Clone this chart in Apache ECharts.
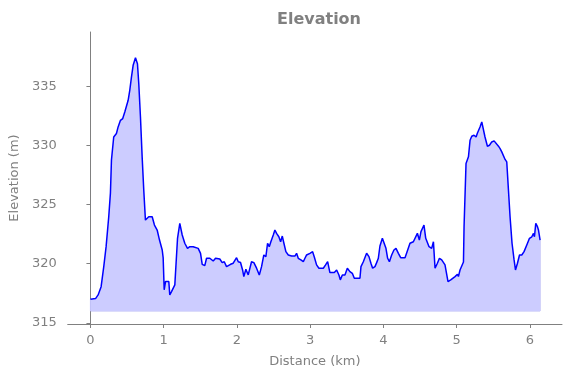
<!DOCTYPE html>
<html>
<head>
<meta charset="utf-8">
<script src="https://cdn.jsdelivr.net/npm/echarts@6/dist/echarts.min.js"></script>
<style>
html,body{margin:0;padding:0;background:#fff;}
#chart{width:571px;height:378px;}
</style>
</head>
<body>
<div id="chart"></div>
<script>
var distKm = [
  0, 0.07, 0.105, 0.146, 0.182, 0.214, 0.25, 0.273, 0.287, 0.318,
  0.355, 0.378, 0.41, 0.441, 0.469, 0.515, 0.537, 0.56, 0.583, 0.615,
  0.642, 0.66, 0.683, 0.706, 0.728, 0.751, 0.796, 0.843, 0.874, 0.911,
  0.943, 0.98, 0.993, 1.007, 1.025, 1.052, 1.07, 1.083, 1.107, 1.13,
  1.152, 1.175, 1.189, 1.22, 1.253, 1.288, 1.325, 1.357, 1.403, 1.425,
  1.471, 1.503, 1.526, 1.561, 1.585, 1.63, 1.653, 1.676, 1.708, 1.735,
  1.766, 1.799, 1.827, 1.858, 1.881, 1.913, 1.949, 1.971, 1.995, 2.018,
  2.049, 2.077, 2.094, 2.122, 2.154, 2.199, 2.231, 2.268, 2.305, 2.336,
  2.367, 2.395, 2.418, 2.441, 2.463, 2.496, 2.518, 2.541, 2.572, 2.596,
  2.619, 2.641, 2.668, 2.701, 2.746, 2.791, 2.814, 2.837, 2.873, 2.906,
  2.928, 2.951, 2.996, 3.033, 3.056, 3.087, 3.119, 3.179, 3.21, 3.238,
  3.269, 3.329, 3.361, 3.392, 3.411, 3.439, 3.474, 3.507, 3.542, 3.575,
  3.602, 3.62, 3.648, 3.679, 3.693, 3.725, 3.747, 3.77, 3.802, 3.829,
  3.852, 3.884, 3.907, 3.93, 3.952, 3.985, 4.012, 4.034, 4.057, 4.081,
  4.112, 4.143, 4.171, 4.204, 4.235, 4.262, 4.294, 4.326, 4.362, 4.408,
  4.43, 4.463, 4.49, 4.512, 4.536, 4.553, 4.577, 4.6, 4.622, 4.658,
  4.682, 4.704, 4.736, 4.764, 4.795, 4.818, 4.84, 4.863, 4.881, 4.918,
  4.945, 4.977, 5.01, 5.023, 5.045, 5.068, 5.092, 5.1, 5.127, 5.16,
  5.182, 5.205, 5.236, 5.264, 5.283, 5.318, 5.342, 5.365, 5.386, 5.419,
  5.447, 5.478, 5.51, 5.537, 5.57, 5.592, 5.615, 5.638, 5.66, 5.683,
  5.706, 5.728, 5.755, 5.783, 5.802, 5.829, 5.857, 5.888, 5.919, 5.943,
  5.966, 5.993, 6.025, 6.048, 6.061, 6.079, 6.102, 6.116, 6.138
];
var elevM = [
  317.0, 317.05, 317.36, 318.06, 319.75, 321.44, 323.97, 325.97, 328.76, 330.72,
  331.01, 331.57, 332.13, 332.28, 332.83, 333.82, 334.67, 335.79, 336.78, 337.42,
  336.92, 335.23, 332.41, 329.04, 326.23, 323.69, 323.97, 323.97, 323.27, 322.85,
  322.0, 321.16, 320.49, 317.79, 318.49, 318.63, 318.49, 317.36, 317.64, 317.51,
  318.21, 318.06, 322.15, 323.41, 322.43, 321.73, 321.3, 321.44, 321.44, 321.58,
  321.3, 320.88, 319.95, 319.84, 320.46, 320.46, 320.6, 320.23, 320.46, 320.32,
  320.4, 320.09, 320.17, 319.75, 319.62, 319.95, 320.04, 320.17, 320.51, 320.17,
  320.1, 319.47, 318.91, 319.53, 319.05, 320.17, 320.09, 319.62, 319.05, 319.75,
  320.74, 320.6, 321.73, 321.44, 321.86, 322.43, 322.85, 322.57, 322.28, 321.86,
  322.34, 321.73, 321.02, 320.74, 320.65, 320.65, 320.88, 320.46, 320.32, 320.17,
  320.46, 320.74, 320.88, 321.02, 320.57, 319.9, 319.62, 319.62, 319.9, 320.17,
  319.25, 319.25, 319.47, 319.05, 318.63, 319.05, 319.05, 319.62, 319.33, 319.19,
  318.77, 318.63, 318.77, 318.77, 319.75, 320.17, 320.04, 320.88, 320.6, 320.04,
  319.62, 319.75, 320.09, 320.46, 321.5, 322.15, 322.23, 321.3, 320.46, 320.17,
  320.74, 321.16, 321.3, 320.88, 320.51, 320.6, 320.51, 321.08, 321.73, 321.86,
  322.0, 322.57, 322.0, 322.71, 323.04, 323.27, 322.15, 322.28, 321.44, 321.3,
  321.86, 319.62, 320.04, 320.46, 320.32, 320.32, 319.9, 320.04, 318.49, 318.63,
  318.63, 318.91, 319.11, 318.91, 319.47, 319.33, 320.15, 323.13, 328.48, 329.04,
  330.44, 330.78, 330.87, 330.72, 331.06, 331.57, 331.99, 331.9, 330.72, 329.94,
  330.02, 330.3, 330.39, 330.3, 329.94, 329.74, 329.46, 329.37, 328.82, 328.61,
  326.23, 323.97, 321.73, 320.32, 319.47, 320.04, 320.74, 320.74, 321.02, 320.88,
  321.73, 322.15, 322.28, 322.57, 322.28, 323.41, 323.13, 322.85, 322.0
];
var xTicks = [0, 1, 2, 3, 4, 5, 6];
var yTicks = [315, 320, 325, 330, 335];
var fillBase = 316;
var titleText = 'Elevation';
var xName = 'Distance (km)';
var yName = 'Elevation (m)';

var GRAY = '#808080';
var FONT = 'DejaVu Sans';
var profile = distKm.map(function (d, i) { return [d, elevM[i]]; });
var n = distKm.length;
var edge = [[distKm[0], elevM[0]], [distKm[0], fillBase], [distKm[n - 1], fillBase], [distKm[n - 1], elevM[n - 1]]];

var chart = echarts.init(document.getElementById('chart'), null, {renderer: 'canvas'});
chart.setOption({
  animation: false,
  backgroundColor: '#ffffff',
  title: {
    text: titleText,
    left: 314,
    textAlign: 'center',
    top: 7,
    textStyle: {color: GRAY, fontFamily: FONT, fontWeight: 'bold', fontSize: 16}
  },
  grid: {left: 66, right: 9, top: 32, bottom: 54, containLabel: false},
  xAxis: {
    type: 'value',
    min: -0.31,
    max: 6.437,
    name: xName,
    nameLocation: 'middle',
    nameGap: 31,
    nameTextStyle: {color: GRAY, fontFamily: FONT, fontSize: 13},
    axisLine: {onZero: false, lineStyle: {color: GRAY, width: 1}},
    axisTick: {show: true, length: 4, customValues: xTicks, lineStyle: {color: GRAY}},
    axisLabel: {customValues: xTicks, color: GRAY, fontFamily: FONT, fontSize: 13, margin: 10},
    splitLine: {show: false}
  },
  yAxis: {
    type: 'value',
    min: 314.9,
    max: 339.6,
    name: yName,
    nameLocation: 'middle',
    nameGap: 40,
    nameTextStyle: {color: GRAY, fontFamily: FONT, fontSize: 13},
    axisLine: {show: true, lineStyle: {color: GRAY, width: 1}},
    axisTick: {show: true, length: 4, customValues: yTicks, lineStyle: {color: GRAY}},
    axisLabel: {customValues: yTicks, color: GRAY, fontFamily: FONT, fontSize: 13, margin: 11},
    splitLine: {show: false}
  },
  series: [
    {
      type: 'line',
      data: profile,
      showSymbol: false,
      symbol: 'none',
      lineStyle: {color: '#0000ff', width: 1.5},
      areaStyle: {color: '#ccccff', opacity: 1, origin: fillBase},
      z: 3
    },
    {
      type: 'line',
      data: edge,
      showSymbol: false,
      symbol: 'none',
      lineStyle: {color: '#b8b8f5', width: 1},
      z: 2
    }
  ]
});
</script>
</body>
</html>
